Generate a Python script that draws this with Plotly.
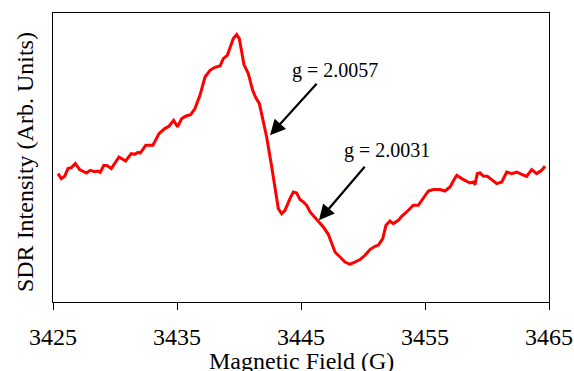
import plotly.graph_objects as go

# Magnetic field (G)
field = [3425.40, 3425.67, 3425.94, 3426.21, 3426.48, 3426.80, 3427.15, 3427.42, 3427.69, 3428.01,
         3428.36, 3428.63, 3428.81, 3429.09, 3429.35, 3429.70, 3429.98, 3430.32, 3430.86, 3431.31,
         3431.59, 3431.85, 3432.04, 3432.48, 3433.06, 3433.55, 3434.01, 3434.35, 3434.73, 3435.04,
         3435.38, 3435.73, 3436.10, 3436.45, 3436.85, 3437.26, 3437.66, 3438.06, 3438.47, 3438.73,
         3439.06, 3439.27, 3439.54, 3439.81, 3440.02, 3440.22, 3440.40, 3440.75, 3441.10, 3441.37,
         3441.64, 3441.91, 3442.23, 3442.64, 3442.90, 3443.17, 3443.44, 3443.71, 3444.11, 3444.38,
         3444.65, 3444.92, 3445.19, 3445.46, 3445.73, 3446.13, 3446.40, 3446.80, 3447.20, 3447.48,
         3447.74, 3448.15, 3448.55, 3448.95, 3449.35, 3449.76, 3450.16, 3450.56, 3450.97, 3451.23,
         3451.59, 3451.85, 3452.18, 3452.44, 3452.85, 3453.12, 3453.52, 3454.06, 3454.46, 3454.86,
         3455.27, 3455.67, 3456.21, 3456.61, 3457.02, 3457.28, 3457.56, 3457.96, 3458.36, 3458.63,
         3458.90, 3459.03, 3459.22, 3459.44, 3459.70, 3460.02, 3460.38, 3460.78, 3461.19, 3461.59,
         3461.99, 3462.40, 3462.80, 3463.20, 3463.60, 3464.01, 3464.41, 3464.68]

# SDR intensity (arbitrary units)
intensity = [128.4, 123.4, 125.7, 133.4, 134.4, 138.4, 132.4, 131.0, 129.0, 131.7,
             130.4, 131.0, 129.7, 136.4, 136.4, 133.4, 138.4, 145.0, 141.0, 148.4,
             147.7, 149.7, 149.0, 156.7, 156.7, 168.4, 173.4, 175.7, 181.7, 175.2,
             183.4, 186.0, 187.4, 193.4, 206.7, 225.0, 231.7, 234.7, 236.0, 243.4,
             246.7, 255.0, 263.4, 267.4, 263.4, 250.0, 237.4, 228.4, 211.7, 204.0,
             198.4, 183.4, 165.0, 135.0, 115.0, 93.4, 88.4, 91.7, 103.4, 110.0,
             109.0, 102.4, 100.0, 96.7, 90.0, 84.4, 81.7, 75.0, 67.7, 58.4,
             50.0, 45.0, 40.0, 37.7, 40.0, 42.4, 46.7, 52.4, 55.7, 56.7,
             63.4, 76.7, 81.0, 78.4, 81.7, 85.7, 90.0, 96.7, 96.7, 103.4,
             111.0, 112.4, 112.4, 111.0, 115.0, 121.0, 126.7, 123.4, 121.0, 119.0,
             120.0, 117.4, 128.4, 129.0, 126.0, 125.7, 122.4, 118.4, 120.0, 130.0,
             128.4, 130.0, 127.7, 125.7, 132.4, 128.4, 131.7, 135.7]

x_ticks = [3425, 3435, 3445, 3455, 3465]
labels = ["g = 2.0057", "g = 2.0031"]
label_x = [3447.74, 3451.94]
label_y = [231.7, 151.7]
arrow_head_x = [3442.50, 3446.45]
arrow_head_y = [166.7, 81.7]
arrow_tail_x = [3446.37, 3450.24]
arrow_tail_y = [219.7, 136.7]

FONT = "Liberation Serif"

fig = go.Figure()
fig.add_trace(go.Scatter(x=field, y=intensity, mode="lines",
                         line=dict(color="#ff0000", width=3), showlegend=False))

for i in range(len(labels)):
    fig.add_annotation(x=label_x[i], y=label_y[i], text=labels[i], showarrow=False,
                       xanchor="center", yanchor="middle",
                       font=dict(family=FONT, size=20, color="black"))
    fig.add_annotation(x=arrow_head_x[i], y=arrow_head_y[i], ax=arrow_tail_x[i], ay=arrow_tail_y[i],
                       axref="x", ayref="y", text="", showarrow=True,
                       arrowhead=2, arrowsize=1.4, arrowwidth=2.2, arrowcolor="black")

fig.add_annotation(xref="paper", yref="paper", x=0.5, y=-0.205, text="Magnetic Field (G)",
                   showarrow=False, xanchor="center", yanchor="middle",
                   font=dict(family=FONT, size=24, color="black"))
fig.add_annotation(xref="paper", yref="paper", x=-0.056, y=0.485, text="SDR Intensity (Arb. Units)",
                   showarrow=False, xanchor="center", yanchor="middle", textangle=-90,
                   font=dict(family=FONT, size=24, color="black"))

fig.update_xaxes(range=[3425, 3465], tickvals=x_ticks, ticks="outside", ticklen=7,
                 tickcolor="black", tickwidth=1, showline=True, linecolor="black", linewidth=1,
                 mirror=True, showgrid=False, zeroline=False, ticklabelstandoff=6,
                 automargin=False,
                 tickfont=dict(family=FONT, size=24, color="black"))
fig.update_yaxes(range=[0, 289], showticklabels=False, ticks="", showline=True,
                 automargin=False,
                 linecolor="black", linewidth=1, mirror=True, showgrid=False, zeroline=False)

fig.update_layout(width=574, height=371, margin=dict(l=53, r=25, t=13, b=69),
                  plot_bgcolor="white", paper_bgcolor="white",
                  font=dict(family=FONT, color="black"))

fig.write_html("out.html")
